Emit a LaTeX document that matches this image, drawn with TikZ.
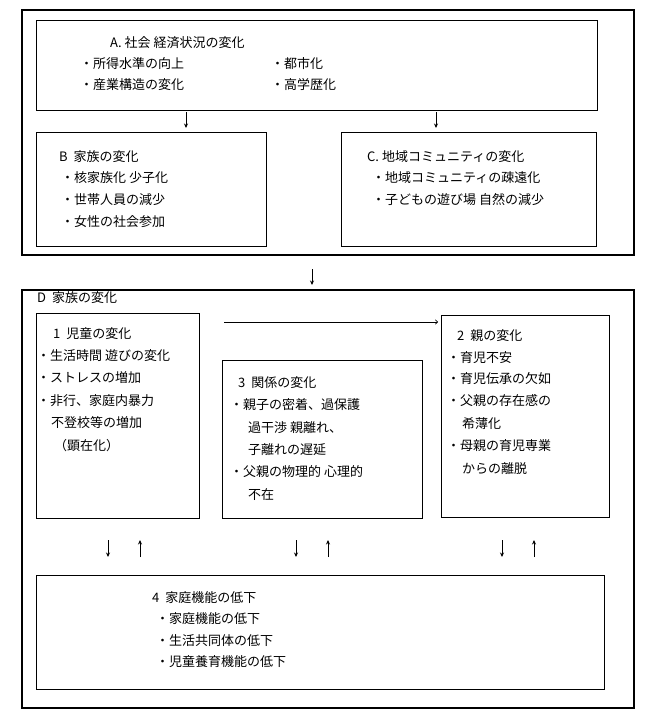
\documentclass[tikz,border=0pt]{standalone}
\usepackage{fontspec}
\setmainfont{Noto Sans CJK JP}
\usetikzlibrary{arrows.meta}
\begin{document}
\begin{tikzpicture}[x=1pt,y=-1pt,
  outer/.style={draw=black, line width=1.6pt, anchor=north west, inner sep=0pt},
  box/.style={draw=black, line width=0.8pt, anchor=north west, inner sep=0pt},
  txt/.style={anchor=west, inner sep=0pt, font=\fontsize{13}{15}\selectfont},
  arr/.style={line width=1pt, -{Stealth[length=4.5pt,width=4pt]}},
  harr/.style={line width=0.6pt, -{To[length=3pt,width=5pt]}},
]
\useasboundingbox (0,0) rectangle (651,710);
% outer frames
\node[outer, minimum width=612pt, minimum height=245pt] (O1) at (21,9) {};
\node[outer, minimum width=612pt, minimum height=418pt] (O2) at (21,289) {};
% upper boxes
\node[box, minimum width=561pt, minimum height=90pt] (A) at (36,20) {};
\node[box, minimum width=230pt, minimum height=114pt] (B) at (36,132) {};
\node[box, minimum width=255pt, minimum height=114pt] (C) at (341,132) {};
% lower boxes
\node[box, minimum width=163pt, minimum height=205pt] (D1) at (36,313) {};
\node[box, minimum width=200pt, minimum height=158pt] (D3) at (222,360) {};
\node[box, minimum width=168pt, minimum height=202pt] (D2) at (441,315) {};
\node[box, minimum width=568pt, minimum height=114pt] (D4) at (36,575) {};
% texts A
\node[txt] (a0) at (110,43) {A. 社会 経済状況の変化};
\node[txt] (a1) at (80,64) {・所得水準の向上};
\node[txt] (a2) at (271,64) {・都市化};
\node[txt] (a3) at (80,85) {・産業構造の変化};
\node[txt] (a4) at (271,85) {・高学歴化};
% texts B
\node[txt] (b0) at (59,157) {B\hspace{6pt}家族の変化};
\node[txt] (b1) at (61,178) {・核家族化 少子化};
\node[txt] (b2) at (61,200) {・世帯人員の減少};
\node[txt] (b3) at (61,222) {・女性の社会参加};
% texts C
\node[txt] (c0) at (367,157) {C. 地域コミュニティの変化};
\node[txt] (c1) at (372,178) {・地域コミュニティの疎遠化};
\node[txt] (c2) at (372,200) {・子どもの遊び場 自然の減少};
% D label
\node[txt] (d0) at (37,298) {D\hspace{6pt}家族の変化};
% box 1
\node[txt] (e0) at (53,334) {1\hspace{6pt}児童の変化};
\node[txt] (e1) at (37,356) {・生活時間 遊びの変化};
\node[txt] (e2) at (37,378) {・ストレスの増加};
\node[txt] (e3) at (37,401) {・非行、家庭内暴力};
\node[txt] (e4) at (51,423) {不登校等の増加};
\node[txt] (e5) at (54,446) {（顕在化）};
% box 3
\node[txt] (f0) at (238,383) {3\hspace{6pt}関係の変化};
\node[txt] (f1) at (230,405) {・親子の密着、過保護};
\node[txt] (f2) at (248,428) {過干渉 親離れ、};
\node[txt] (f3) at (248,450) {子離れの遅延};
\node[txt] (f4) at (230,472) {・父親の物理的 心理的};
\node[txt] (f5) at (248,495) {不在};
% box 2
\node[txt] (g0) at (457,336) {2\hspace{6pt}親の変化};
\node[txt] (g1) at (447,358) {・育児不安};
\node[txt] (g2) at (447,379) {・育児伝承の欠如};
\node[txt] (g3) at (447,401) {・父親の存在感の};
\node[txt] (g4) at (462,424) {希薄化};
\node[txt] (g5) at (447,446) {・母親の育児専業};
\node[txt] (g6) at (462,469) {からの離脱};
% box 4
\node[txt] (h0) at (152,598) {4\hspace{6pt}家庭機能の低下};
\node[txt] (h1) at (156,619) {・家庭機能の低下};
\node[txt] (h2) at (156,641) {・生活共同体の低下};
\node[txt] (h3) at (156,662) {・児童養育機能の低下};
% arrow end points
\coordinate (p1s) at (186,112); \coordinate (p1e) at (186,128);
\coordinate (p2s) at (436,112); \coordinate (p2e) at (436,128);
\coordinate (p3s) at (312,269); \coordinate (p3e) at (312,285);
\coordinate (q1s) at (224,322); \coordinate (q1e) at (438,322);
\coordinate (r1s) at (108,540); \coordinate (r1e) at (108,557);
\coordinate (r2s) at (140,557); \coordinate (r2e) at (140,540);
\coordinate (r3s) at (296,540); \coordinate (r3e) at (296,557);
\coordinate (r4s) at (328,557); \coordinate (r4e) at (328,540);
\coordinate (r5s) at (502,540); \coordinate (r5e) at (502,557);
\coordinate (r6s) at (534,557); \coordinate (r6e) at (534,540);
\draw[arr] (p1s) -- (p1e);
\draw[arr] (p2s) -- (p2e);
\draw[arr] (p3s) -- (p3e);
\draw[harr] (q1s) -- (q1e);
\draw[arr] (r1s) -- (r1e);
\draw[arr] (r2s) -- (r2e);
\draw[arr] (r3s) -- (r3e);
\draw[arr] (r4s) -- (r4e);
\draw[arr] (r5s) -- (r5e);
\draw[arr] (r6s) -- (r6e);
\end{tikzpicture}
\end{document}
